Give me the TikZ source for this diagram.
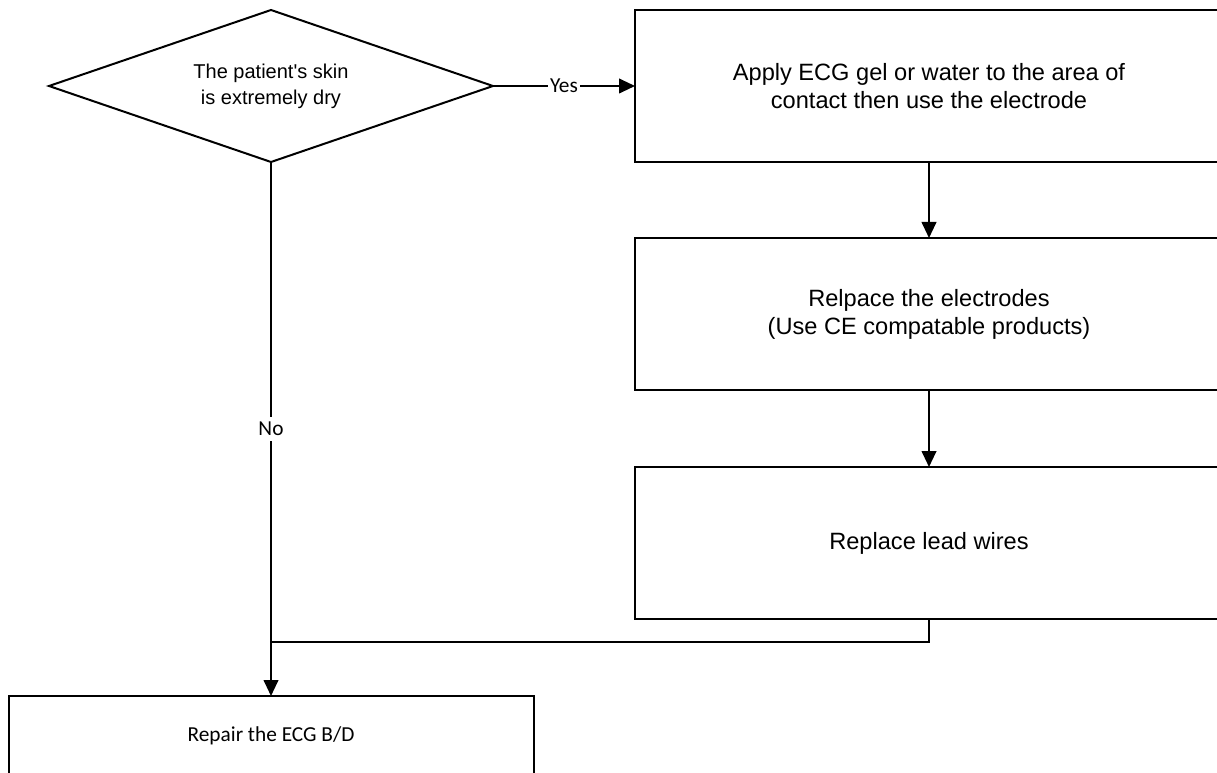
\documentclass[tikz,border=0pt]{standalone}
\usepackage{fontspec}
\setmainfont{Liberation Sans}
\newfontfamily\calibri{Carlito}
\usetikzlibrary{arrows.meta,positioning,shapes.geometric}
\tikzset{
  step box/.style={draw,line width=1.5pt,outer sep=0pt,minimum width=441pt,minimum height=114pt,align=center,font=\fontsize{17.7}{21}\selectfont},
  decision/.style={draw,diamond,aspect=2.92,line width=1.5pt,outer sep=0pt,inner sep=0pt,minimum width=333pt,minimum height=114pt,align=center,font=\fontsize{15}{19.5}\selectfont},
  end box/.style={draw,line width=1.5pt,outer sep=0pt,minimum width=393.75pt,minimum height=60pt,font=\calibri\fontsize{16}{19}\selectfont},
  arr/.style={-{Triangle[length=12pt,width=11pt]},line width=1.5pt},
  line/.style={line width=1.5pt},
  tag/.style={fill=white,inner sep=1.5pt,font=\calibri\fontsize{16}{19}\selectfont}
}

\begin{document}
\begin{tikzpicture}[node distance=57pt]
  \useasboundingbox (0,0) rectangle (912.75pt,-579.75pt);
  \node[decision] (dry) at (203.25pt,-64.5pt) {The patient\textquotesingle s skin\\is extremely dry};
  \node[step box,right=106.5pt of dry] (gel) {Apply ECG gel or water to the area of\\contact then use the electrode};
  \node[step box,below=of gel] (electrodes) {Relpace the electrodes\\(Use CE compatable products)};
  \node[step box,below=57.75pt of electrodes] (wires) {Replace lead wires};
  \node[end box,below=400.5pt of dry] (repair) {Repair the ECG B/D};
  \path (wires.south) ++(0,-17.25pt) coordinate (turn);
  \coordinate (join) at (turn -| dry.south);
  \draw[arr] (dry) -- node[tag] {Yes} (gel);
  \draw[arr] (gel) -- (electrodes);
  \draw[arr] (electrodes) -- (wires);
  \draw[arr] (dry) -- node[tag,inner sep=4pt] {No} (repair);
  \draw[line] (wires.south) -- (turn) -- (join);
\end{tikzpicture}
\end{document}
